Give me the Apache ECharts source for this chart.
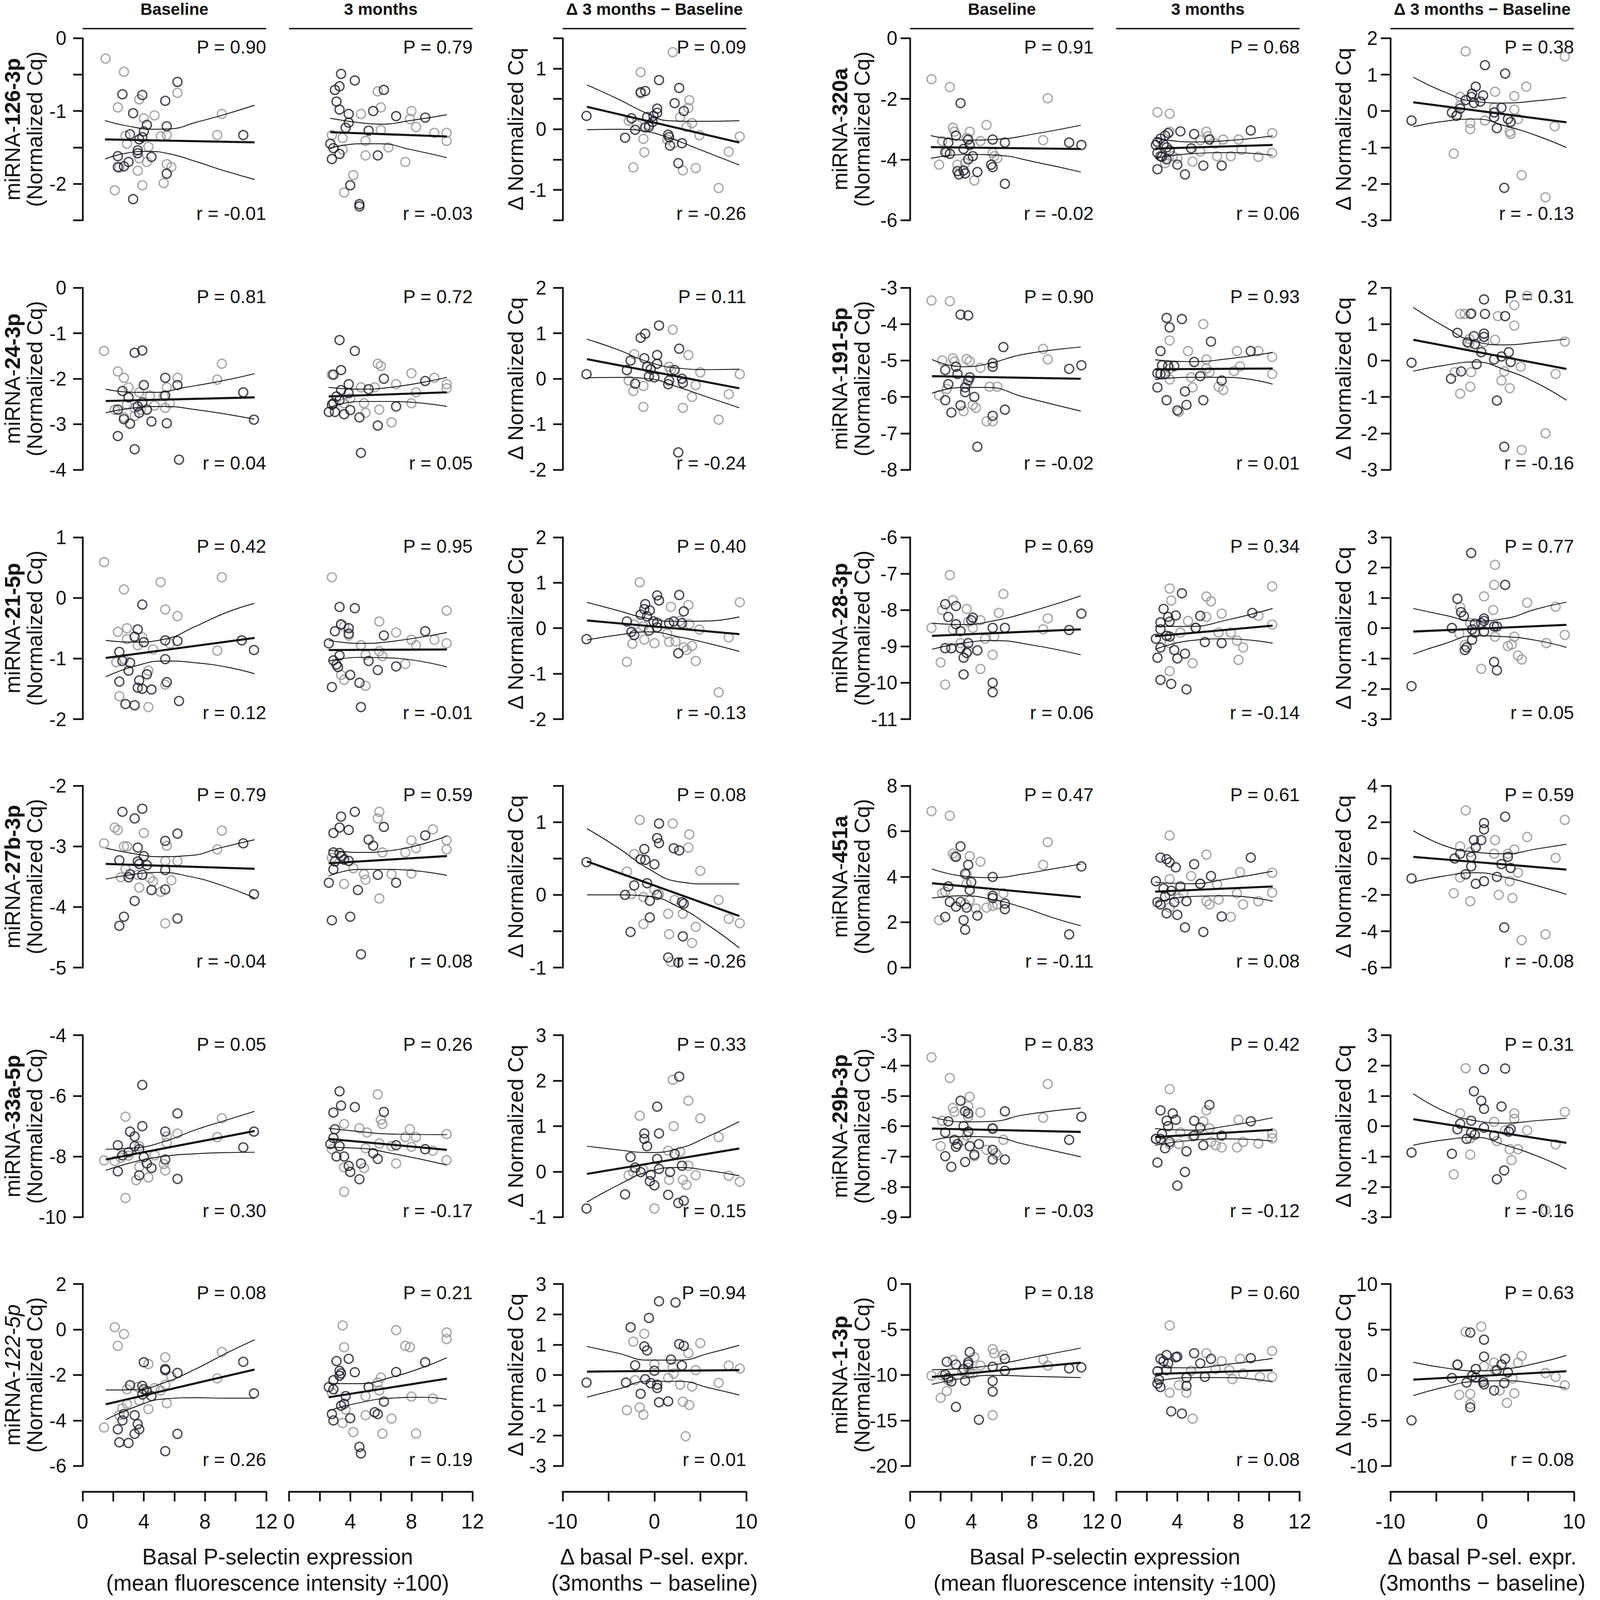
<!DOCTYPE html>
<html>
<head>
<meta charset="utf-8">
<title>miRNA vs basal P-selectin expression</title>
<script src="https://cdn.jsdelivr.net/npm/echarts@6/dist/echarts.min.js"></script>
<style>
html, body { margin: 0; padding: 0; background: #fff; overflow: hidden; }
#main { width: 100vw; height: 100vh; }
</style>
</head>
<body>
<div id="main"></div>
<script>
//表头与名称
var colHeaders = ['Baseline', '3 months', '\u0394 3 months \u2212 Baseline'];
var mirLeft = ['126-3p', '24-3p', '21-5p', '27b-3p', '33a-5p', '122-5p'];
var mirRight = ['320a', '191-5p', '28-3p', '451a', '29b-3p', '1-3p'];

//P值 / r值 (每行6个面板)
var pLabels = [
	['P = 0.90', 'P = 0.79', 'P = 0.09', 'P = 0.91', 'P = 0.68', 'P = 0.38'],
	['P = 0.81', 'P = 0.72', 'P = 0.11', 'P = 0.90', 'P = 0.93', 'P = 0.31'],
	['P = 0.42', 'P = 0.95', 'P = 0.40', 'P = 0.69', 'P = 0.34', 'P = 0.77'],
	['P = 0.79', 'P = 0.59', 'P = 0.08', 'P = 0.47', 'P = 0.61', 'P = 0.59'],
	['P = 0.05', 'P = 0.26', 'P = 0.33', 'P = 0.83', 'P = 0.42', 'P = 0.31'],
	['P = 0.08', 'P = 0.21', 'P =0.94', 'P = 0.18', 'P = 0.60', 'P = 0.63']
];
var rLabels = [
	['r = -0.01', 'r = -0.03', 'r = -0.26', 'r = -0.02', 'r = 0.06', 'r = - 0.13'],
	['r = 0.04', 'r = 0.05', 'r = -0.24', 'r = -0.02', 'r = 0.01', 'r = -0.16'],
	['r = 0.12', 'r = -0.01', 'r = -0.13', 'r = 0.06', 'r = -0.14', 'r = 0.05'],
	['r = -0.04', 'r = 0.08', 'r = -0.26', 'r = -0.11', 'r = 0.08', 'r = -0.08'],
	['r = 0.30', 'r = -0.17', 'r = 0.15', 'r = -0.03', 'r = -0.12', 'r = -0.16'],
	['r = 0.26', 'r = 0.19', 'r = 0.01', 'r = 0.20', 'r = 0.08', 'r = 0.08']
];

//y轴刻度 [min, max, 刻度间隔, 标签间隔]
var yBasalLeft = [[-2.5, 0, 0.5, 1], [-4, 0, 1, 1], [-2, 1, 1, 1], [-5, -2, 1, 1], [-10, -4, 2, 2], [-6, 2, 2, 2]];
var yDeltaLeft = [[-1.5, 1.5, 0.5, 1], [-2, 2, 1, 1], [-2, 2, 1, 1], [-1, 1.5, 0.5, 1], [-1, 3, 1, 1], [-3, 3, 1, 1]];
var yBasalRight = [[-6, 0, 2, 2], [-8, -3, 1, 1], [-11, -6, 1, 1], [0, 8, 2, 2], [-9, -3, 1, 1], [-20, 0, 5, 5]];
var yDeltaRight = [[-3, 2, 1, 1], [-3, 2, 1, 1], [-3, 3, 1, 1], [-6, 4, 2, 2], [-3, 3, 1, 1], [-10, 10, 5, 5]];
//x轴刻度
var xBasalTicks = [0, 12, 2, 4];
var xDeltaTicks = [-10, 10, 5, 10];

// ---------- row 1 ----------
var r1c1_gray = [[1.5,-0.28],[2.7,-0.46],[2.3,-0.95],[3.7,-0.84],[6.2,-0.75],[4.0,-1.10],[4.7,-1.06],[2.8,-1.34],[2.9,-1.45],[5.1,-1.35],[5.5,-1.33],[4.3,-1.49],[3.7,-1.65],[4.2,-1.70],[2.4,-1.78],[5.5,-1.73],[5.8,-1.77],[3.6,-1.82],[3.9,-2.02],[5.3,-1.99],[2.1,-2.09],[9.1,-1.04],[8.8,-1.33]];
var r1c1_black = [[6.2,-0.60],[2.6,-0.77],[3.9,-0.78],[5.4,-0.86],[3.3,-1.03],[4.2,-1.19],[5.5,-1.21],[3.1,-1.32],[4.0,-1.28],[3.9,-1.36],[3.7,-1.39],[3.6,-1.54],[3.6,-1.58],[4.5,-1.63],[2.3,-1.62],[3.0,-1.70],[2.3,-1.77],[2.7,-1.76],[5.5,-1.86],[3.3,-2.21],[10.5,-1.33]];
var r1c1_fit = [[1.46,-1.39],[11.24,-1.43]];
var r1c1_hi = [[1.46,-1.13],[2.8,-1.20],[4.7,-1.25],[5.7,-1.245],[7.5,-1.15],[9.25,-1.05],[11.24,-0.92]];
var r1c1_lo = [[1.46,-1.66],[2.8,-1.58],[4.3,-1.555],[5.7,-1.59],[7.5,-1.70],[9.25,-1.82],[11.24,-1.94]];

var r1c2_gray = [[5.8,-0.73],[6.0,-0.95],[4.7,-1.04],[8.0,-1.0],[7.9,-1.11],[6.0,-1.26],[8.3,-1.22],[2.8,-1.33],[3.5,-1.37],[9.5,-1.30],[10.3,-1.30],[10.3,-1.41],[5.0,-1.41],[6.5,-1.50],[3.5,-1.53],[5.0,-1.61],[7.6,-1.70],[4.2,-1.88],[3.6,-2.12]];
var r1c2_black = [[3.4,-0.49],[4.3,-0.58],[3.3,-0.66],[3.0,-0.71],[3.1,-0.87],[3.3,-0.98],[3.9,-1.04],[5.5,-1.0],[6.2,-0.71],[7.0,-1.07],[8.9,-1.09],[3.9,-1.16],[3.7,-1.23],[5.2,-1.27],[2.7,-1.45],[2.9,-1.51],[3.3,-1.59],[2.8,-1.66],[5.8,-1.61],[4.0,-2.02],[4.6,-2.28],[4.6,-2.31]];
var r1c2_fit = [[2.69,-1.29],[10.32,-1.35]];
var r1c2_hi = [[2.69,-1.10],[4.6,-1.16],[5.95,-1.18],[7.97,-1.13],[10.32,-1.05]];
var r1c2_lo = [[2.69,-1.51],[4.6,-1.45],[5.95,-1.45],[7.97,-1.53],[10.32,-1.64]];

var r1c3_gray = [[2.0,1.27],[-1.5,0.94],[-1.5,0.59],[3.8,0.48],[3.7,0.35],[2.8,0.20],[4.1,0.10],[-2.8,0.14],[-1.9,0.07],[-0.6,0.07],[3.5,0.04],[4.9,-0.10],[1.4,-0.17],[2.1,-0.23],[-1.2,-0.16],[-1.1,-0.38],[8.1,-0.37],[9.3,-0.12],[-2.3,-0.63],[3.1,-0.68],[4.5,-0.64],[7.0,-0.97]];
var r1c3_black = [[0.5,0.81],[-1.5,0.61],[-1.0,0.63],[2.7,0.68],[2.2,0.43],[0.3,0.34],[3.2,0.30],[0.3,0.27],[-0.1,0.22],[-0.8,0.20],[-2.5,0.18],[-0.2,0.12],[-0.6,0.04],[-1.0,0.03],[-2.1,-0.01],[-7.4,0.22],[1.5,-0.09],[1.6,-0.13],[-3.2,-0.14],[1.7,-0.27],[3.0,-0.23],[2.6,-0.56]];
var r1c3_fit = [[-7.35,0.37],[9.25,-0.22]];
var r1c3_hi = [[-7.35,0.73],[-4.0,0.50],[-0.67,0.25],[1.56,0.14],[4.35,0.13],[9.25,0.14]];
var r1c3_lo = [[-7.35,-0.01],[-4.0,0.0],[-1.2,-0.03],[1.56,-0.14],[4.35,-0.30],[9.25,-0.59]];

var r1c4_gray = [[1.4,-1.35],[2.6,-1.61],[9.0,-1.98],[5.0,-2.86],[2.8,-2.95],[2.9,-3.08],[3.9,-3.08],[2.1,-3.39],[3.7,-3.29],[4.6,-3.39],[8.7,-3.36],[2.4,-3.76],[5.4,-3.78],[5.5,-3.89],[5.7,-3.96],[1.9,-4.17],[3.1,-4.17],[4.2,-4.69],[3.6,-4.12]];
var r1c4_black = [[3.3,-2.14],[3.0,-3.21],[3.8,-3.34],[5.4,-3.34],[6.2,-3.44],[2.5,-3.44],[3.9,-3.52],[3.5,-3.65],[2.3,-3.76],[2.6,-3.81],[4.1,-3.89],[3.8,-3.99],[5.3,-4.17],[5.4,-4.25],[3.1,-4.38],[3.5,-4.36],[3.6,-4.46],[3.2,-4.49],[4.4,-4.41],[6.2,-4.80],[10.4,-3.44],[11.2,-3.52]];
var r1c4_fit = [[1.36,-3.59],[11.16,-3.65]];
var r1c4_hi = [[1.36,-3.21],[3.75,-3.36],[5.75,-3.33],[8.07,-3.16],[11.16,-2.87]];
var r1c4_lo = [[1.36,-3.96],[3.75,-3.83],[5.75,-3.86],[8.07,-4.07],[11.16,-4.41]];

var r1c5_gray = [[2.7,-2.44],[3.5,-2.49],[3.5,-3.08],[5.9,-3.08],[6.0,-3.23],[7.0,-3.34],[8.0,-3.34],[5.5,-3.36],[10.2,-3.13],[6.5,-3.47],[8.2,-3.68],[5.5,-3.73],[10.2,-3.78],[3.7,-3.89],[6.6,-3.89],[7.5,-3.89],[9.3,-3.91],[5.0,-4.07],[4.0,-3.96],[3.2,-4.12]];
var r1c5_black = [[4.2,-3.07],[5.1,-3.16],[8.8,-3.04],[3.4,-3.13],[3.2,-3.21],[2.9,-3.31],[2.7,-3.42],[3.1,-3.49],[2.6,-3.52],[3.3,-3.60],[3.5,-3.70],[2.7,-3.78],[2.9,-3.89],[3.3,-3.99],[3.0,-3.91],[6.1,-3.34],[4.9,-3.63],[4.0,-4.17],[5.7,-4.20],[6.9,-4.20],[2.7,-4.32],[4.5,-4.49]];
var r1c5_fit = [[2.55,-3.64],[10.23,-3.52]];
var r1c5_hi = [[2.55,-3.29],[4.87,-3.42],[6.85,-3.39],[10.23,-3.22]];
var r1c5_lo = [[2.55,-3.96],[4.87,-3.81],[7.5,-3.77],[10.23,-3.86]];

var r1c6_gray = [[-1.8,1.64],[9.0,1.50],[4.8,0.67],[1.4,0.53],[3.5,0.41],[-2.4,0.39],[-2.4,0.15],[1.3,0.09],[3.5,0.04],[-2.7,-0.09],[3.9,-0.22],[0.3,-0.26],[-1.3,-0.33],[-1.3,-0.50],[3.0,-0.57],[3.1,-0.63],[7.9,-0.42],[-3.1,-1.17],[4.3,-1.76],[6.9,-2.37]];
var r1c6_black = [[0.3,1.26],[2.5,1.03],[-0.7,0.67],[-1.1,0.48],[0.1,0.43],[-1.2,0.39],[-1.8,0.30],[-0.2,0.26],[-0.9,0.22],[-2.4,0.07],[-3.3,-0.04],[-2.8,-0.13],[2.1,0.09],[1.3,-0.04],[1.3,-0.17],[2.8,-0.22],[3.1,-0.30],[1.6,-0.47],[-7.7,-0.26],[2.4,-2.11]];
var r1c6_fit = [[-7.51,0.24],[9.17,-0.31]];
var r1c6_hi = [[-7.51,0.93],[-4.09,0.52],[-0.77,0.26],[2.54,0.22],[5.86,0.28],[9.17,0.37]];
var r1c6_lo = [[-7.51,-0.43],[-4.09,-0.28],[-0.77,-0.22],[2.54,-0.41],[5.86,-0.67],[9.17,-1.0]];

// ---------- row 2 ----------
var r2c1_gray = [[1.4,-1.39],[2.3,-1.84],[2.7,-1.98],[9.1,-1.67],[8.8,-2.02],[6.2,-1.98],[5.5,-2.19],[3.0,-2.19],[3.7,-2.30],[2.9,-2.57],[4.4,-2.37],[4.7,-2.59],[5.3,-2.38],[5.7,-2.54],[5.4,-2.64],[2.1,-2.68],[3.4,-2.64],[3.8,-2.68],[3.4,-2.82],[2.7,-2.85]];
var r2c1_black = [[3.4,-1.43],[3.9,-1.38],[5.4,-1.98],[6.2,-2.14],[4.0,-2.14],[2.6,-2.27],[5.4,-2.37],[3.0,-2.41],[3.9,-2.52],[3.6,-2.61],[3.7,-2.75],[4.2,-2.68],[2.3,-2.68],[2.7,-2.89],[3.1,-2.99],[4.5,-2.94],[5.5,-2.98],[10.5,-2.30],[11.2,-2.90],[2.3,-3.26],[3.4,-3.55],[6.3,-3.78]];
var r2c1_fit = [[1.51,-2.49],[11.24,-2.41]];
var r2c1_hi = [[1.51,-2.23],[3.36,-2.30],[4.70,-2.30],[6.71,-2.19],[9.06,-2.05],[11.24,-1.89]];
var r2c1_lo = [[1.51,-2.75],[3.36,-2.64],[5.37,-2.61],[7.38,-2.68],[9.40,-2.78],[11.24,-2.89]];

var r2c2_gray = [[5.8,-1.67],[6.0,-1.72],[2.8,-1.91],[8.0,-1.88],[9.5,-1.98],[10.3,-2.12],[10.3,-2.21],[7.0,-2.12],[4.7,-2.19],[5.6,-2.19],[8.3,-2.30],[4.0,-2.43],[3.6,-2.54],[4.9,-2.54],[8.0,-2.54],[5.9,-2.68],[5.0,-2.75],[6.7,-2.96]];
var r2c2_black = [[3.3,-1.15],[4.3,-1.39],[3.4,-1.81],[2.9,-1.91],[3.9,-2.12],[6.2,-2.0],[5.2,-2.23],[3.4,-2.25],[3.9,-2.32],[3.1,-2.39],[3.3,-2.47],[2.9,-2.54],[2.8,-2.57],[8.9,-2.05],[2.6,-2.73],[3.0,-2.73],[4.0,-2.69],[3.6,-2.78],[4.6,-2.85],[7.0,-2.61],[5.8,-3.03],[4.7,-3.63]];
var r2c2_fit = [[2.59,-2.39],[10.32,-2.30]];
var r2c2_hi = [[2.59,-2.19],[4.61,-2.23],[6.63,-2.19],[10.32,-1.97]];
var r2c2_lo = [[2.59,-2.64],[4.61,-2.50],[6.63,-2.50],[10.32,-2.61]];

var r2c3_gray = [[2.0,1.08],[3.7,0.52],[-2.2,0.54],[1.8,0.19],[5.0,0.14],[9.3,0.10],[-2.8,-0.04],[-1.2,-0.16],[4.5,-0.14],[-2.3,-0.27],[4.1,-0.40],[8.1,-0.34],[-1.2,-0.62],[3.1,-0.64],[7.0,-0.90],[1.6,0.26]];
var r2c3_black = [[0.5,1.17],[-1.5,0.90],[-1.0,0.99],[2.7,0.66],[0.3,0.52],[-1.1,0.45],[-2.6,0.40],[0.3,0.33],[-0.8,0.26],[-0.4,0.21],[-3.0,0.19],[2.2,0.19],[-7.4,0.10],[-0.6,0.05],[0.0,0.03],[1.6,-0.04],[3.0,0.0],[1.5,-0.12],[3.1,-0.09],[-2.1,-0.11],[2.6,-1.62]];
var r2c3_fit = [[-7.35,0.43],[9.25,-0.21]];
var r2c3_hi = [[-7.35,0.87],[-4.0,0.64],[-0.67,0.37],[2.67,0.23],[6.02,0.20],[9.25,0.21]];
var r2c3_lo = [[-7.35,0.02],[-4.0,0.03],[-0.67,0.0],[2.67,-0.19],[6.02,-0.42],[9.25,-0.64]];

var r2c4_gray = [[1.4,-3.35],[2.6,-3.37],[8.7,-4.68],[9.0,-4.97],[2.1,-5.0],[2.8,-4.94],[2.9,-5.03],[3.7,-4.96],[3.9,-5.02],[4.6,-5.20],[2.4,-5.78],[1.9,-5.96],[3.5,-6.39],[4.1,-6.22],[4.3,-6.30],[5.2,-5.72],[5.7,-5.72],[5.0,-6.67],[5.4,-6.67],[3.7,-5.65]];
var r2c4_black = [[3.3,-3.74],[3.8,-3.76],[6.1,-4.63],[11.2,-5.13],[10.4,-5.23],[5.4,-5.07],[5.4,-5.17],[2.3,-5.26],[3.0,-5.17],[3.1,-5.37],[3.9,-5.46],[3.8,-5.55],[2.5,-5.65],[3.6,-5.74],[3.6,-5.87],[2.3,-6.09],[4.2,-6.0],[3.3,-6.23],[2.7,-6.43],[5.4,-6.52],[6.2,-6.35],[4.4,-7.37]];
var r2c4_fit = [[1.43,-5.43],[11.16,-5.50]];
var r2c4_hi = [[1.43,-4.97],[3.42,-5.17],[5.08,-5.09],[7.41,-4.83],[11.16,-4.63]];
var r2c4_lo = [[1.43,-5.90],[3.42,-5.74],[5.08,-5.74],[7.41,-6.0],[11.16,-6.39]];

var r2c5_gray = [[5.7,-4.0],[3.5,-4.45],[4.7,-4.74],[7.9,-4.74],[9.3,-4.74],[10.2,-4.90],[5.9,-4.97],[8.1,-5.16],[3.5,-5.22],[5.9,-5.22],[7.7,-5.29],[6.1,-5.32],[10.2,-5.37],[4.9,-5.46],[3.5,-5.52],[6.7,-5.72],[7.0,-5.81],[5.0,-5.74],[4.1,-6.41]];
var r2c5_black = [[3.3,-3.83],[4.3,-3.86],[3.5,-4.09],[6.2,-4.48],[2.9,-4.74],[8.8,-4.74],[5.1,-5.04],[3.4,-5.15],[3.8,-5.15],[3.0,-5.13],[2.7,-5.35],[2.9,-5.37],[3.2,-5.37],[5.5,-5.43],[6.9,-5.55],[2.7,-5.74],[4.5,-5.85],[3.3,-6.09],[5.7,-6.09],[4.6,-6.22],[4.0,-6.37]];
var r2c5_fit = [[2.55,-5.24],[10.23,-5.22]];
var r2c5_hi = [[2.55,-4.98],[4.87,-5.03],[7.19,-4.96],[10.23,-4.78]];
var r2c5_lo = [[2.55,-5.52],[4.87,-5.46],[7.19,-5.46],[10.23,-5.65]];

var r2c6_gray = [[4.9,1.78],[3.5,1.52],[-2.4,1.28],[-1.9,1.28],[-1.3,1.28],[1.7,1.22],[3.5,0.96],[-1.4,0.59],[1.4,0.57],[0.2,0.50],[-1.4,0.46],[9.0,0.52],[-3.0,-0.32],[-1.2,-0.32],[2.4,-0.30],[4.2,-0.17],[-2.4,-0.91],[-1.3,-0.72],[2.1,-0.55],[3.0,-0.76],[8.0,-0.37],[6.9,-2.0],[4.3,-2.46]];
var r2c6_black = [[0.2,1.68],[-1.2,1.29],[0.3,1.28],[2.5,1.22],[-2.7,0.76],[-0.9,0.67],[0.2,0.74],[0.2,0.65],[-1.6,0.50],[-0.8,0.45],[-0.1,0.23],[2.9,0.23],[2.1,0.11],[1.3,0.03],[3.1,-0.04],[-7.7,-0.06],[-0.6,-0.10],[-2.3,-0.30],[-3.4,-0.50],[1.6,-1.10],[2.4,-2.37]];
var r2c6_fit = [[-7.51,0.57],[9.17,-0.23]];
var r2c6_hi = [[-7.51,1.46],[-4.09,0.93],[-0.77,0.52],[2.54,0.43],[5.86,0.50],[9.17,0.59]];
var r2c6_lo = [[-7.51,-0.29],[-4.09,-0.13],[-0.77,-0.04],[2.54,-0.26],[5.86,-0.61],[9.17,-1.09]];

// ---------- row 3 ----------
var r3c1_gray = [[1.4,0.59],[2.7,0.14],[5.1,0.26],[9.1,0.34],[5.4,-0.19],[6.2,-0.30],[2.3,-0.56],[2.9,-0.50],[2.9,-0.68],[3.9,-0.65],[4.6,-0.85],[3.6,-0.78],[5.7,-0.75],[8.8,-0.87],[2.7,-1.01],[2.2,-1.06],[4.3,-1.20],[5.4,-1.43],[2.4,-1.62],[4.3,-1.80]];
var r3c1_black = [[3.9,-0.11],[3.6,-0.52],[3.4,-0.64],[4.0,-0.73],[5.4,-0.70],[6.2,-0.71],[2.4,-0.89],[10.4,-0.70],[11.2,-0.86],[2.6,-1.04],[3.1,-1.07],[5.4,-1.01],[3.0,-1.20],[4.2,-1.26],[3.7,-1.36],[2.4,-1.38],[5.5,-1.39],[3.6,-1.48],[3.9,-1.50],[4.5,-1.51],[2.8,-1.75],[3.4,-1.77],[6.3,-1.70]];
var r3c1_fit = [[1.51,-0.99],[11.24,-0.66]];
var r3c1_hi = [[1.51,-0.70],[3.36,-0.73],[5.37,-0.68],[7.38,-0.47],[9.40,-0.24],[11.24,-0.09]];
var r3c1_lo = [[1.51,-1.30],[3.36,-1.13],[5.37,-1.04],[7.38,-1.07],[9.40,-1.14],[11.24,-1.25]];

var r3c2_gray = [[2.8,0.34],[5.9,-0.39],[10.3,-0.21],[3.4,-0.43],[3.6,-0.47],[7.0,-0.57],[10.3,-0.75],[9.5,-0.69],[8.0,-0.69],[8.3,-0.78],[3.9,-0.62],[4.7,-0.78],[5.9,-0.88],[5.0,-0.94],[6.1,-0.96],[7.6,-1.09],[3.4,-1.27],[3.6,-1.35],[5.0,-1.45]];
var r3c2_black = [[3.3,-0.15],[4.3,-0.17],[3.4,-0.44],[3.9,-0.50],[3.0,-0.55],[3.9,-0.59],[6.2,-0.62],[8.9,-0.55],[2.6,-0.75],[3.3,-0.95],[2.9,-1.03],[5.2,-1.04],[3.1,-1.10],[7.0,-1.13],[3.2,-1.14],[5.8,-1.19],[4.0,-1.27],[4.6,-1.40],[2.8,-1.47],[4.7,-1.80]];
var r3c2_fit = [[2.59,-0.86],[10.32,-0.85]];
var r3c2_hi = [[2.59,-0.70],[4.61,-0.75],[6.63,-0.72],[10.32,-0.57]];
var r3c2_lo = [[2.59,-1.04],[4.61,-0.98],[6.63,-0.99],[10.32,-1.14]];

var r3c3_gray = [[-1.6,1.01],[9.3,0.57],[3.7,0.51],[1.8,0.47],[2.8,0.16],[-2.2,0.08],[-1.2,0.04],[4.9,-0.03],[3.8,0.09],[1.4,-0.12],[-2.4,-0.34],[-1.1,-0.25],[0.0,-0.33],[1.6,-0.30],[2.3,-0.29],[3.2,-0.42],[4.1,-0.39],[3.5,-0.48],[8.1,-0.20],[-3.0,-0.74],[4.5,-0.72],[7.0,-1.41]];
var r3c3_black = [[0.3,0.72],[0.5,0.61],[2.7,0.73],[-1.0,0.53],[-1.1,0.42],[3.2,0.37],[-0.5,0.39],[-1.5,0.30],[-0.8,0.26],[-3.0,0.15],[-0.1,0.15],[0.3,0.12],[1.6,0.11],[2.1,0.15],[3.0,0.11],[0.3,0.02],[-0.6,-0.05],[-2.5,-0.08],[-2.2,-0.15],[-7.4,-0.24],[2.6,-0.55]];
var r3c3_fit = [[-7.35,0.17],[9.25,-0.13]];
var r3c3_hi = [[-7.35,0.57],[-4.0,0.39],[-0.67,0.21],[2.67,0.15],[6.02,0.16],[9.25,0.25]];
var r3c3_lo = [[-7.35,-0.26],[-4.0,-0.15],[-0.67,-0.08],[2.67,-0.19],[6.02,-0.34],[9.25,-0.51]];

var r3c4_gray = [[2.6,-7.04],[2.8,-7.73],[6.1,-7.56],[2.1,-8.0],[3.7,-7.97],[5.8,-8.08],[4.6,-8.28],[3.8,-8.32],[9.0,-8.23],[1.4,-8.49],[2.8,-8.53],[4.1,-8.49],[8.7,-8.53],[4.9,-8.79],[5.5,-8.73],[3.3,-8.91],[3.8,-9.12],[5.4,-9.23],[4.6,-9.62],[2.0,-9.44],[2.3,-10.05]];
var r3c4_black = [[2.3,-7.84],[3.0,-7.89],[2.5,-8.19],[4.1,-8.21],[4.0,-8.28],[3.0,-8.39],[11.2,-8.10],[6.2,-8.49],[5.4,-8.49],[3.3,-8.58],[10.4,-8.55],[3.8,-8.91],[2.3,-9.05],[2.7,-9.05],[3.3,-9.05],[4.4,-9.11],[3.7,-9.18],[3.5,-9.31],[3.5,-9.77],[5.4,-10.0],[5.4,-10.26]];
var r3c4_fit = [[1.43,-8.71],[11.16,-8.53]];
var r3c4_hi = [[1.43,-8.36],[3.42,-8.40],[5.42,-8.30],[8.07,-8.02],[11.16,-7.61]];
var r3c4_lo = [[1.43,-9.08],[3.42,-8.91],[5.42,-8.84],[8.07,-8.97],[11.16,-9.23]];

var r3c5_gray = [[3.5,-7.41],[10.2,-7.35],[3.6,-7.74],[5.9,-7.63],[6.2,-7.76],[4.7,-8.30],[5.9,-8.19],[6.9,-8.10],[9.3,-8.16],[10.2,-8.40],[5.2,-8.49],[4.2,-8.62],[6.7,-8.62],[7.5,-8.62],[3.5,-8.91],[7.9,-8.84],[8.3,-9.03],[5.0,-9.46],[8.0,-9.37],[3.5,-9.68]];
var r3c5_black = [[4.3,-7.54],[3.1,-7.97],[3.4,-8.19],[3.5,-8.32],[3.9,-8.15],[5.5,-8.16],[8.9,-8.08],[2.9,-8.34],[5.2,-8.49],[2.9,-8.53],[3.3,-8.71],[2.6,-8.79],[3.5,-8.73],[5.8,-8.88],[6.9,-8.91],[2.9,-9.03],[3.8,-9.10],[4.5,-9.20],[2.7,-9.31],[4.0,-9.33],[2.9,-9.92],[3.6,-10.03],[4.6,-10.18]];
var r3c5_fit = [[2.55,-8.72],[10.23,-8.43]];
var r3c5_hi = [[2.55,-8.45],[4.87,-8.45],[7.19,-8.28],[10.23,-7.96]];
var r3c5_lo = [[2.55,-9.08],[4.87,-8.84],[7.19,-8.79],[10.23,-8.91]];

var r3c6_gray = [[1.4,2.09],[1.3,1.43],[0.2,1.05],[1.2,0.60],[4.9,0.84],[-2.4,0.69],[8.0,0.71],[-1.3,0.17],[-2.5,-0.18],[1.4,-0.28],[3.5,-0.28],[9.0,-0.22],[-1.9,-0.56],[2.8,-0.59],[3.2,-0.54],[7.0,-0.49],[3.9,-0.90],[4.3,-1.03],[-0.1,-1.34]];
var r3c6_black = [[-1.2,2.48],[2.5,1.43],[-2.7,0.97],[-2.3,0.53],[-2.0,0.40],[0.2,0.32],[0.2,0.24],[-0.1,0.17],[-0.8,0.15],[-3.3,0.01],[-1.1,-0.04],[1.3,0.06],[1.6,0.06],[0.2,-0.11],[-0.8,-0.15],[-1.1,-0.38],[-1.7,-0.63],[-1.9,-0.72],[1.3,-1.11],[1.6,-1.39],[-7.7,-1.91]];
var r3c6_fit = [[-7.51,-0.11],[9.17,0.11]];
var r3c6_hi = [[-7.51,0.65],[-4.09,0.43],[-0.77,0.24],[2.54,0.32],[5.86,0.63],[9.17,0.86]];
var r3c6_lo = [[-7.51,-0.85],[-4.09,-0.51],[-0.77,-0.25],[2.54,-0.28],[5.86,-0.40],[9.17,-0.63]];

// ---------- row 4 ----------
var r4c1_gray = [[2.1,-2.69],[2.3,-2.73],[4.0,-2.78],[1.4,-2.95],[2.7,-3.0],[2.9,-3.0],[5.5,-2.99],[9.1,-2.74],[8.8,-3.05],[6.2,-3.24],[5.4,-3.24],[2.8,-3.37],[2.5,-3.51],[3.6,-3.47],[4.6,-3.58],[5.8,-3.56],[4.4,-3.52],[3.7,-3.68],[5.1,-3.75],[5.4,-4.27]];
var r4c1_black = [[2.6,-2.43],[3.9,-2.38],[3.4,-2.54],[6.2,-2.79],[5.4,-2.91],[3.6,-3.02],[4.0,-3.16],[2.4,-3.23],[3.6,-3.25],[3.7,-3.29],[4.2,-3.31],[5.4,-3.39],[3.1,-3.46],[3.9,-3.47],[3.0,-3.51],[10.5,-2.95],[11.2,-3.79],[4.5,-3.72],[5.4,-3.71],[3.4,-3.90],[2.7,-4.16],[2.4,-4.31],[6.2,-4.19]];
var r4c1_fit = [[1.51,-3.29],[11.24,-3.37]];
var r4c1_hi = [[1.51,-3.03],[3.36,-3.12],[5.04,-3.17],[7.05,-3.15],[9.06,-3.02],[11.24,-2.89]];
var r4c1_lo = [[1.51,-3.54],[3.36,-3.46],[5.04,-3.43],[7.05,-3.50],[9.06,-3.64],[11.24,-3.85]];

var r4c2_gray = [[5.9,-2.43],[5.8,-2.54],[9.4,-2.72],[10.3,-2.90],[8.0,-2.90],[10.3,-3.05],[8.3,-3.03],[7.6,-3.10],[6.1,-3.10],[2.8,-3.19],[3.5,-3.17],[4.2,-3.36],[4.9,-3.46],[5.0,-3.55],[6.7,-3.46],[8.0,-3.45],[3.6,-3.62],[5.9,-3.86]];
var r4c2_black = [[4.3,-2.43],[3.4,-2.51],[3.3,-2.69],[3.9,-2.73],[2.9,-2.78],[6.2,-2.68],[5.2,-2.89],[5.5,-2.99],[8.9,-2.82],[2.9,-3.10],[3.3,-3.11],[3.4,-3.16],[3.6,-3.22],[3.9,-3.24],[3.0,-3.25],[2.9,-3.38],[5.8,-3.47],[7.0,-3.60],[2.6,-3.60],[4.5,-3.72],[2.8,-4.22],[4.0,-4.16],[4.7,-4.78]];
var r4c2_fit = [[2.59,-3.28],[10.32,-3.16]];
var r4c2_hi = [[2.59,-3.06],[4.61,-3.10],[6.63,-3.07],[10.32,-2.83]];
var r4c2_lo = [[2.59,-3.49],[4.61,-3.38],[6.63,-3.38],[10.32,-3.48]];

var r4c3_gray = [[-1.6,1.03],[2.0,0.98],[3.8,0.83],[-2.2,0.56],[3.7,0.65],[5.0,0.33],[-3.0,0.32],[-2.5,0.01],[-1.2,-0.03],[0.0,0.07],[0.5,0.01],[2.2,-0.07],[1.5,-0.26],[3.1,-0.26],[7.0,-0.07],[8.1,-0.33],[9.3,-0.39],[-1.2,-0.40],[4.5,-0.44],[1.6,-0.54],[4.1,-0.66],[1.8,-0.92]];
var r4c3_black = [[0.5,0.98],[0.3,0.78],[0.5,0.71],[-1.1,0.63],[2.1,0.64],[2.7,0.61],[-1.5,0.49],[-1.0,0.48],[0.0,0.42],[-7.4,0.45],[-0.8,0.16],[-2.2,0.13],[-3.2,0.0],[0.3,0.0],[-0.5,-0.08],[3.0,-0.10],[3.2,-0.12],[-0.5,-0.31],[-2.6,-0.51],[3.1,-0.57],[1.5,-0.86],[2.6,-0.93]];
var r4c3_fit = [[-7.35,0.46],[9.25,-0.29]];
var r4c3_hi = [[-7.35,0.91],[-4.0,0.65],[-0.67,0.36],[2.67,0.18],[6.02,0.15],[9.25,0.15]];
var r4c3_lo = [[-7.35,0.0],[-4.0,0.0],[-0.67,-0.02],[2.67,-0.17],[6.02,-0.43],[9.25,-0.73]];

var r4c4_gray = [[1.4,6.88],[2.6,6.68],[9.0,5.52],[8.7,4.52],[2.8,5.01],[2.9,4.90],[3.9,4.90],[4.6,4.66],[3.7,4.10],[3.7,3.69],[2.1,3.27],[2.3,3.34],[6.1,3.27],[4.3,2.60],[5.0,2.64],[5.4,2.71],[5.7,2.78],[3.6,2.78],[1.9,2.09],[3.9,2.96]];
var r4c4_black = [[3.3,5.33],[3.0,4.87],[3.8,4.52],[3.6,4.13],[5.4,3.99],[4.0,3.76],[2.5,3.57],[3.9,3.41],[11.2,4.45],[5.4,3.16],[5.4,3.06],[2.6,2.89],[3.3,2.89],[6.2,2.82],[3.0,2.68],[3.7,2.64],[6.2,2.57],[2.3,2.23],[4.4,2.29],[3.5,2.09],[3.6,1.67],[10.4,1.46]];
var r4c4_fit = [[1.43,3.71],[11.16,3.10]];
var r4c4_hi = [[1.43,4.34],[3.42,4.03],[5.42,3.96],[7.41,4.12],[9.40,4.35],[11.16,4.55]];
var r4c4_lo = [[1.43,3.06],[3.42,3.16],[5.42,2.99],[7.41,2.64],[9.40,2.18],[11.16,1.84]];

var r4c5_gray = [[3.5,5.81],[5.9,4.97],[10.2,4.17],[8.1,4.20],[4.9,4.03],[3.5,3.89],[5.5,3.69],[6.6,3.66],[3.5,3.20],[4.4,3.27],[4.1,3.06],[7.9,3.27],[5.9,2.92],[6.7,2.99],[6.1,2.78],[8.3,2.78],[9.3,2.92],[10.2,3.30],[3.5,2.64],[7.5,2.23]];
var r4c5_black = [[2.9,4.84],[3.3,4.77],[3.5,4.63],[3.9,4.41],[5.1,4.55],[8.8,4.84],[6.2,4.03],[2.6,3.80],[5.5,3.69],[3.1,3.48],[4.2,3.57],[3.6,3.38],[3.2,3.13],[2.7,2.88],[2.9,2.78],[3.8,2.88],[4.6,2.92],[3.3,2.39],[4.0,2.32],[6.9,2.25],[4.5,1.77],[5.7,1.57]];
var r4c5_fit = [[2.55,3.34],[10.23,3.57]];
var r4c5_hi = [[2.55,3.76],[4.87,3.69],[7.19,3.89],[10.23,4.24]];
var r4c5_lo = [[2.55,2.85],[4.87,3.13],[7.19,3.16],[10.23,2.92]];

var r4c6_gray = [[-1.8,2.64],[9.0,2.12],[4.9,1.18],[1.4,1.01],[3.5,0.49],[-2.4,0.66],[1.3,0.26],[2.8,0.26],[8.0,0.03],[-2.4,-1.04],[3.9,-0.78],[3.0,-1.25],[-3.1,-1.91],[-1.3,-2.35],[1.8,-2.0],[3.3,-2.17],[4.3,-4.49],[6.9,-4.17],[-1.3,0.35]];
var r4c6_black = [[2.5,2.30],[0.2,1.95],[0.2,1.60],[-0.9,1.01],[-0.1,1.01],[-0.7,0.61],[-2.4,0.26],[-3.0,0.0],[-1.2,0.09],[2.8,0.09],[2.1,-0.31],[-1.2,-0.43],[3.1,-0.52],[-1.8,-0.87],[1.6,-1.01],[-0.7,-1.39],[0.2,-1.25],[-7.7,-1.10],[2.4,-3.79]];
var r4c6_fit = [[-7.51,0.09],[9.17,-0.61]];
var r4c6_hi = [[-7.51,1.53],[-4.09,0.70],[-0.77,0.35],[2.54,0.26],[5.86,0.52],[9.17,0.78]];
var r4c6_lo = [[-7.51,-1.30],[-4.09,-0.96],[-0.77,-0.78],[2.54,-1.04],[5.86,-1.48],[9.17,-1.97]];

// ---------- row 5 ----------
var r5c1_gray = [[2.8,-6.69],[9.1,-6.74],[5.5,-7.34],[6.2,-7.24],[8.8,-7.36],[3.7,-7.66],[5.5,-7.55],[1.4,-8.13],[2.1,-8.15],[2.5,-8.04],[3.0,-7.97],[4.7,-7.96],[5.3,-8.25],[3.7,-8.34],[5.4,-8.46],[4.3,-8.69],[3.5,-8.78],[2.8,-9.37]];
var r5c1_black = [[3.9,-5.64],[6.2,-6.58],[3.9,-7.0],[3.1,-7.18],[3.4,-7.34],[5.4,-7.18],[2.3,-7.63],[3.4,-7.66],[3.7,-7.76],[10.5,-7.70],[11.2,-7.18],[3.0,-7.86],[2.6,-7.96],[4.0,-8.02],[5.4,-8.10],[4.2,-8.23],[4.5,-8.38],[2.3,-8.49],[3.7,-8.62],[6.2,-8.74]];
var r5c1_fit = [[1.51,-8.10],[11.24,-7.16]];
var r5c1_hi = [[1.51,-7.76],[3.36,-7.72],[5.37,-7.50],[7.38,-7.12],[9.40,-6.80],[11.24,-6.51]];
var r5c1_lo = [[1.51,-8.46],[3.36,-8.18],[5.37,-7.99],[7.38,-7.91],[9.40,-7.87],[11.24,-7.86]];

var r5c2_gray = [[5.8,-5.95],[6.0,-6.79],[6.1,-6.93],[3.6,-6.93],[4.6,-7.07],[5.1,-7.21],[7.9,-7.10],[10.3,-7.26],[8.3,-7.36],[7.6,-7.36],[5.0,-7.73],[5.9,-7.57],[6.7,-7.66],[8.0,-7.68],[2.8,-7.76],[9.4,-7.81],[10.3,-8.12],[3.6,-8.36],[4.9,-8.38],[7.0,-8.23],[3.6,-9.16]];
var r5c2_black = [[3.3,-5.85],[3.4,-6.32],[4.3,-6.37],[2.9,-6.55],[6.2,-6.53],[3.0,-7.10],[2.9,-7.39],[2.7,-7.59],[3.3,-7.66],[7.0,-7.63],[8.9,-7.76],[5.5,-7.89],[5.8,-8.08],[3.1,-8.0],[3.6,-8.0],[4.7,-8.23],[3.9,-8.31],[4.0,-8.51],[4.6,-8.75]];
var r5c2_fit = [[2.59,-7.42],[10.32,-7.78]];
var r5c2_hi = [[2.59,-7.07],[4.61,-7.18],[6.63,-7.26],[10.32,-7.28]];
var r5c2_lo = [[2.59,-7.70],[4.61,-7.73],[6.63,-7.89],[10.32,-8.28]];

var r5c3_gray = [[2.0,2.02],[3.7,1.56],[-1.6,1.23],[5.0,1.17],[2.1,1.0],[7.0,0.76],[1.5,0.46],[2.8,0.44],[3.7,0.13],[4.5,-0.08],[-2.8,-0.08],[-2.3,-0.01],[-1.2,0.04],[1.6,-0.18],[3.1,-0.18],[3.5,-0.29],[8.1,-0.09],[9.3,-0.22],[0.0,-0.81]];
var r5c3_black = [[2.7,2.09],[0.3,1.43],[0.5,0.84],[-1.1,0.84],[-1.1,0.72],[-0.8,0.56],[-2.6,0.32],[0.3,0.28],[2.2,0.39],[3.0,0.13],[-2.1,0.09],[-1.5,-0.01],[0.5,0.06],[1.7,-0.01],[-0.4,-0.07],[-0.5,-0.21],[0.0,-0.30],[-3.2,-0.50],[1.5,-0.51],[3.2,-0.64],[2.6,-0.69],[-7.4,-0.81]];
var r5c3_fit = [[-7.35,-0.05],[9.25,0.51]];
var r5c3_hi = [[-7.35,0.56],[-4.0,0.48],[-0.67,0.42],[2.67,0.51],[6.02,0.79],[9.25,1.10]];
var r5c3_lo = [[-7.35,-0.67],[-4.0,-0.30],[-0.67,0.0],[2.67,0.09],[6.02,0.02],[9.25,-0.09]];

var r5c4_gray = [[1.4,-3.73],[2.6,-4.41],[9.0,-4.61],[3.9,-5.03],[2.8,-5.40],[2.9,-5.53],[3.8,-5.34],[4.6,-5.55],[3.8,-5.69],[8.7,-5.72],[2.1,-5.82],[5.4,-6.10],[6.1,-6.45],[2.0,-6.66],[3.5,-6.47],[5.0,-6.78],[5.6,-6.89],[5.7,-6.96],[4.2,-6.99],[3.7,-6.31]];
var r5c4_black = [[3.3,-5.16],[3.6,-5.51],[6.2,-5.51],[3.8,-5.58],[11.2,-5.69],[2.5,-5.84],[3.5,-6.0],[3.8,-6.18],[5.4,-6.07],[2.3,-6.21],[10.4,-6.45],[2.9,-6.45],[3.1,-6.59],[4.5,-6.59],[3.9,-6.66],[3.0,-6.68],[4.2,-6.94],[5.4,-6.78],[2.3,-6.99],[5.4,-7.10],[6.2,-7.10],[3.6,-7.18],[2.7,-7.34]];
var r5c4_fit = [[1.43,-6.08],[11.16,-6.19]];
var r5c4_hi = [[1.43,-5.69],[3.42,-5.86],[5.42,-5.84],[7.41,-5.63],[11.16,-5.40]];
var r5c4_lo = [[1.43,-6.47],[3.42,-6.34],[5.42,-6.36],[7.41,-6.59],[11.16,-7.01]];

var r5c5_gray = [[3.5,-4.78],[5.9,-5.48],[5.7,-5.84],[8.0,-5.79],[4.2,-6.21],[5.0,-6.34],[6.1,-6.07],[10.2,-6.24],[10.2,-6.40],[3.5,-6.59],[4.1,-6.59],[6.2,-6.52],[6.5,-6.63],[8.3,-6.52],[9.3,-6.57],[6.9,-6.70],[7.9,-6.70],[2.6,-6.42]];
var r5c5_black = [[2.9,-5.48],[6.1,-5.30],[3.7,-5.58],[3.3,-5.82],[3.9,-5.79],[5.1,-5.82],[8.8,-5.84],[3.4,-6.0],[5.5,-6.05],[3.0,-6.26],[2.9,-6.42],[2.6,-6.42],[5.1,-6.31],[6.9,-6.31],[3.5,-6.52],[3.2,-6.73],[5.7,-6.63],[4.6,-6.83],[2.7,-7.20],[4.5,-7.51],[4.0,-7.96]];
var r5c5_fit = [[2.55,-6.36],[10.23,-6.12]];
var r5c5_hi = [[2.55,-6.08],[4.87,-6.13],[7.19,-6.0],[10.23,-5.72]];
var r5c5_lo = [[2.55,-6.63],[4.87,-6.47],[7.19,-6.42],[10.23,-6.49]];

var r5c6_gray = [[-1.8,1.91],[-2.4,0.42],[3.5,0.42],[3.5,0.24],[9.0,0.47],[1.3,0.14],[-1.3,-0.40],[2.5,-0.14],[4.9,-0.14],[8.0,-0.60],[3.0,-0.76],[3.9,-0.76],[1.6,-0.49],[-1.3,-0.94],[3.2,-1.12],[-3.1,-1.59],[4.3,-2.27],[6.9,-2.77]];
var r5c6_black = [[0.2,1.88],[2.5,1.90],[-0.9,1.15],[-0.1,0.84],[0.2,0.57],[2.1,0.65],[-1.2,0.18],[-2.4,0.08],[-2.7,-0.10],[0.2,-0.05],[-1.2,-0.21],[-0.8,-0.28],[-1.7,-0.42],[1.3,-0.31],[2.9,-0.18],[3.1,-0.10],[-3.3,-0.91],[-7.7,-0.87],[2.4,-1.46],[1.6,-1.75]];
var r5c6_fit = [[-7.51,0.23],[9.17,-0.55]];
var r5c6_hi = [[-7.51,1.07],[-4.09,0.49],[-0.77,0.18],[2.54,0.10],[5.86,0.18],[9.17,0.26]];
var r5c6_lo = [[-7.51,-0.63],[-4.09,-0.45],[-0.77,-0.37],[2.54,-0.63],[5.86,-0.97],[9.17,-1.41]];

// ---------- row 6 ----------
var r6c1_gray = [[2.1,0.10],[2.7,-0.20],[2.3,-0.72],[5.4,-1.22],[9.1,-0.99],[4.3,-1.52],[5.8,-2.08],[8.8,-2.15],[5.4,-2.43],[2.9,-2.63],[3.6,-2.53],[4.7,-2.58],[5.1,-2.68],[2.6,-3.47],[2.9,-3.27],[3.7,-3.12],[5.5,-3.24],[2.4,-3.77],[4.3,-3.50],[1.4,-4.31]];
var r6c1_black = [[4.0,-1.44],[5.4,-1.74],[5.4,-1.79],[6.2,-1.91],[10.5,-1.42],[3.1,-2.45],[3.9,-2.48],[4.0,-2.63],[4.2,-2.71],[4.5,-2.93],[3.9,-2.86],[11.2,-2.81],[2.7,-3.72],[3.4,-3.77],[2.6,-4.0],[3.6,-4.16],[3.7,-4.39],[2.3,-4.39],[3.4,-4.59],[2.4,-4.96],[3.0,-4.99],[6.2,-4.59],[5.4,-5.35]];
var r6c1_fit = [[1.51,-3.29],[11.24,-1.76]];
var r6c1_hi = [[1.51,-2.66],[3.36,-2.65],[5.37,-2.33],[7.38,-1.74],[9.40,-1.04],[11.24,-0.45]];
var r6c1_lo = [[1.51,-3.97],[3.36,-3.42],[5.37,-3.05],[7.38,-3.0],[9.40,-3.02],[11.24,-3.02]];

var r6c2_gray = [[3.5,0.18],[7.0,-0.03],[10.3,-0.13],[10.3,-0.42],[3.6,-0.78],[7.6,-0.72],[7.9,-0.78],[6.0,-2.11],[5.8,-2.33],[2.8,-2.78],[5.9,-2.68],[5.0,-2.93],[8.0,-2.95],[9.4,-3.04],[3.7,-3.52],[5.0,-3.77],[3.5,-4.11],[6.7,-3.92],[4.2,-4.51],[6.1,-4.58],[8.3,-4.58]];
var r6c2_black = [[3.1,-1.39],[3.9,-1.29],[8.9,-1.44],[3.3,-1.82],[3.4,-1.93],[4.3,-1.88],[7.0,-1.87],[2.9,-2.23],[3.3,-2.03],[2.6,-2.53],[2.9,-2.63],[5.2,-2.53],[3.7,-2.93],[3.6,-3.27],[6.2,-3.17],[3.4,-3.35],[2.8,-3.72],[2.9,-4.0],[4.0,-3.90],[5.6,-3.64],[5.8,-3.72],[4.6,-5.16],[4.7,-5.45]];
var r6c2_fit = [[2.59,-2.98],[10.32,-2.16]];
var r6c2_hi = [[2.59,-2.38],[4.61,-2.38],[6.63,-2.11],[8.65,-1.69],[10.32,-1.24]];
var r6c2_lo = [[2.59,-3.57],[4.61,-3.22],[6.63,-3.02],[8.65,-2.98],[10.32,-3.07]];

var r6c3_gray = [[-1.1,1.36],[-2.3,1.10],[5.0,1.05],[3.7,0.72],[0.0,0.35],[2.0,0.25],[8.1,0.31],[9.3,0.21],[4.5,0.16],[2.1,0.05],[-2.1,-0.17],[1.5,-0.10],[2.8,-0.32],[4.1,-0.38],[7.0,-0.26],[3.1,-0.88],[3.8,-0.99],[-3.0,-1.16],[-1.6,-1.07],[-1.2,-1.31],[3.4,-2.02]];
var r6c3_black = [[0.5,2.43],[2.3,2.39],[-0.6,1.88],[-2.6,1.57],[-1.1,0.94],[-0.8,0.81],[2.7,1.02],[3.2,0.96],[1.8,0.51],[-2.1,0.32],[3.0,0.31],[0.0,0.14],[-7.4,-0.25],[-3.1,-0.25],[-1.0,-0.14],[-0.4,-0.27],[0.3,-0.32],[0.3,-0.43],[-1.5,-0.62],[0.5,-0.90],[1.5,-0.87]];
var r6c3_fit = [[-7.35,0.11],[9.25,0.16]];
var r6c3_hi = [[-7.35,0.94],[-4.0,0.72],[-0.67,0.49],[2.67,0.49],[6.02,0.72],[9.25,0.98]];
var r6c3_lo = [[-7.35,-0.73],[-4.0,-0.47],[-0.67,-0.21],[2.67,-0.21],[6.02,-0.43],[9.25,-0.66]];

var r6c4_gray = [[5.4,-7.16],[5.5,-7.61],[6.1,-7.81],[4.2,-8.05],[2.8,-8.35],[8.7,-8.30],[9.0,-8.97],[4.6,-8.97],[3.8,-9.22],[3.4,-9.59],[3.9,-9.71],[1.4,-10.09],[2.1,-10.04],[4.1,-9.84],[2.5,-10.58],[2.4,-11.77],[2.0,-12.52],[5.4,-14.42]];
var r6c4_black = [[3.9,-7.48],[2.4,-8.55],[3.8,-8.60],[6.2,-8.23],[3.0,-8.85],[3.8,-8.85],[3.5,-9.34],[5.4,-9.10],[6.2,-9.54],[10.4,-9.27],[11.2,-9.17],[2.3,-9.96],[2.5,-10.33],[2.7,-10.71],[3.6,-10.63],[5.4,-10.66],[5.4,-11.82],[3.0,-13.51],[4.5,-14.92]];
var r6c4_fit = [[1.43,-10.21],[11.16,-8.65]];
var r6c4_hi = [[1.43,-9.42],[3.42,-9.29],[5.42,-8.90],[8.07,-8.05],[11.16,-7.04]];
var r6c4_lo = [[1.43,-11.03],[3.42,-10.38],[5.42,-10.04],[8.07,-10.16],[11.16,-10.29]];

var r6c5_gray = [[3.5,-4.56],[10.2,-7.36],[5.9,-7.61],[8.1,-8.23],[6.9,-8.48],[6.5,-9.34],[7.4,-9.47],[4.9,-9.54],[8.3,-9.84],[9.4,-10.21],[10.2,-10.21],[7.6,-10.46],[4.1,-11.13],[4.6,-11.95],[3.5,-11.95],[5.0,-14.80]];
var r6c5_black = [[3.3,-7.81],[3.9,-8.05],[4.0,-7.98],[5.1,-7.61],[6.2,-8.23],[2.9,-8.23],[3.1,-8.48],[3.4,-8.72],[5.5,-8.72],[2.7,-9.59],[8.8,-8.15],[3.3,-9.47],[5.8,-10.21],[2.8,-10.53],[2.7,-10.95],[2.9,-11.33],[4.6,-10.29],[4.6,-11.20],[3.6,-14.0],[4.3,-14.25]];
var r6c5_fit = [[2.55,-9.89],[10.23,-9.47]];
var r6c5_hi = [[2.55,-9.14],[4.87,-9.22],[7.19,-8.85],[10.23,-8.18]];
var r6c5_lo = [[2.55,-10.71],[4.87,-10.29],[7.19,-10.29],[10.23,-10.76]];

var r6c6_gray = [[-0.1,5.32],[-1.8,4.75],[4.3,2.09],[1.3,1.35],[-2.7,1.10],[3.9,1.35],[1.4,0.53],[0.2,0.95],[6.9,0.21],[8.0,-0.21],[9.0,-1.13],[0.1,-0.53],[3.3,-0.38],[-2.5,-2.19],[-1.3,-2.07],[1.9,-1.70],[3.5,-2.02],[-1.3,-3.19],[2.7,-3.07]];
var r6c6_black = [[-1.3,4.66],[0.2,3.88],[0.2,2.02],[2.5,1.77],[-2.7,1.15],[2.1,1.15],[-0.7,0.66],[1.6,0.53],[2.8,0.29],[-3.3,-0.33],[-1.1,-0.09],[-0.7,-0.29],[-1.7,-0.83],[0.1,-0.78],[0.2,-1.03],[2.4,-0.88],[1.3,-1.70],[-1.3,-3.56],[-7.7,-4.99]];
var r6c6_fit = [[-7.51,-0.51],[9.17,0.41]];
var r6c6_hi = [[-7.51,1.40],[-4.09,0.78],[-0.77,0.46],[2.54,0.66],[5.86,1.28],[9.17,2.14]];
var r6c6_lo = [[-7.51,-2.27],[-4.09,-1.33],[-0.77,-0.71],[2.54,-0.63],[5.86,-0.95],[9.17,-1.45]];

function pd(g, b, f, h, l) {
	return { gray : g, black : b, fit : f, hi : h, lo : l };
}
var panelData = [
	[pd(r1c1_gray, r1c1_black, r1c1_fit, r1c1_hi, r1c1_lo), pd(r1c2_gray, r1c2_black, r1c2_fit, r1c2_hi, r1c2_lo), pd(r1c3_gray, r1c3_black, r1c3_fit, r1c3_hi, r1c3_lo),
	 pd(r1c4_gray, r1c4_black, r1c4_fit, r1c4_hi, r1c4_lo), pd(r1c5_gray, r1c5_black, r1c5_fit, r1c5_hi, r1c5_lo), pd(r1c6_gray, r1c6_black, r1c6_fit, r1c6_hi, r1c6_lo)],
	[pd(r2c1_gray, r2c1_black, r2c1_fit, r2c1_hi, r2c1_lo), pd(r2c2_gray, r2c2_black, r2c2_fit, r2c2_hi, r2c2_lo), pd(r2c3_gray, r2c3_black, r2c3_fit, r2c3_hi, r2c3_lo),
	 pd(r2c4_gray, r2c4_black, r2c4_fit, r2c4_hi, r2c4_lo), pd(r2c5_gray, r2c5_black, r2c5_fit, r2c5_hi, r2c5_lo), pd(r2c6_gray, r2c6_black, r2c6_fit, r2c6_hi, r2c6_lo)],
	[pd(r3c1_gray, r3c1_black, r3c1_fit, r3c1_hi, r3c1_lo), pd(r3c2_gray, r3c2_black, r3c2_fit, r3c2_hi, r3c2_lo), pd(r3c3_gray, r3c3_black, r3c3_fit, r3c3_hi, r3c3_lo),
	 pd(r3c4_gray, r3c4_black, r3c4_fit, r3c4_hi, r3c4_lo), pd(r3c5_gray, r3c5_black, r3c5_fit, r3c5_hi, r3c5_lo), pd(r3c6_gray, r3c6_black, r3c6_fit, r3c6_hi, r3c6_lo)],
	[pd(r4c1_gray, r4c1_black, r4c1_fit, r4c1_hi, r4c1_lo), pd(r4c2_gray, r4c2_black, r4c2_fit, r4c2_hi, r4c2_lo), pd(r4c3_gray, r4c3_black, r4c3_fit, r4c3_hi, r4c3_lo),
	 pd(r4c4_gray, r4c4_black, r4c4_fit, r4c4_hi, r4c4_lo), pd(r4c5_gray, r4c5_black, r4c5_fit, r4c5_hi, r4c5_lo), pd(r4c6_gray, r4c6_black, r4c6_fit, r4c6_hi, r4c6_lo)],
	[pd(r5c1_gray, r5c1_black, r5c1_fit, r5c1_hi, r5c1_lo), pd(r5c2_gray, r5c2_black, r5c2_fit, r5c2_hi, r5c2_lo), pd(r5c3_gray, r5c3_black, r5c3_fit, r5c3_hi, r5c3_lo),
	 pd(r5c4_gray, r5c4_black, r5c4_fit, r5c4_hi, r5c4_lo), pd(r5c5_gray, r5c5_black, r5c5_fit, r5c5_hi, r5c5_lo), pd(r5c6_gray, r5c6_black, r5c6_fit, r5c6_hi, r5c6_lo)],
	[pd(r6c1_gray, r6c1_black, r6c1_fit, r6c1_hi, r6c1_lo), pd(r6c2_gray, r6c2_black, r6c2_fit, r6c2_hi, r6c2_lo), pd(r6c3_gray, r6c3_black, r6c3_fit, r6c3_hi, r6c3_lo),
	 pd(r6c4_gray, r6c4_black, r6c4_fit, r6c4_hi, r6c4_lo), pd(r6c5_gray, r6c5_black, r6c5_fit, r6c5_hi, r6c5_lo), pd(r6c6_gray, r6c6_black, r6c6_fit, r6c6_hi, r6c6_lo)]
];

//布局 (以4550x4643为基准, 按实际窗口缩放)
var BASE_W = 4550, BASE_H = 4643;
var dom = document.getElementById('main');
var sx = dom.clientWidth / BASE_W, sy = dom.clientHeight / BASE_H;
var sf = Math.min(sx, sy);
function X(v) { return v * sx; }
function Y(v) { return v * sy; }
function F(v) { return v * sf; }

var FONT = '"Liberation Sans", Arial, Helvetica, sans-serif';
var INK = '#111111', GRAY = '#949494', DARK = '#1c1a2b';
var colLeft = [235, 822, 1600, 2588, 3174, 3954];
var rowTop = [111, 835, 1559, 2280, 3004, 3726];
var plotW = 522, plotH = 528;

function tickFormatter(step) {
	return function(v) {
		var k = v / step;
		return Math.abs(k - Math.round(k)) < 1e-6 ? String(v) : '';
	};
}
function pointStyle(col) {
	return { color : 'rgba(0,0,0,0)', borderColor : col, borderWidth : F(4) };
}

var grids = [], xAxes = [], yAxes = [], series = [], graphics = [];

for (var r = 0; r < 6; r++) {
	for (var c = 0; c < 6; c++) {
		var idx = r * 6 + c;
		var isDelta = (c === 2 || c === 5);
		var right = c >= 3;
		var yr = isDelta ? (right ? yDeltaRight[r] : yDeltaLeft[r]) : (right ? yBasalRight[r] : yBasalLeft[r]);
		var xt = isDelta ? xDeltaTicks : xBasalTicks;
		var d = panelData[r][c];

		grids.push({ left : X(colLeft[c]), top : Y(rowTop[r]), width : X(plotW), height : Y(plotH),
			containLabel : false, outerBoundsMode : 'none' });

		xAxes.push({
			gridIndex : idx, type : 'value', min : xt[0], max : xt[1], interval : xt[2],
			show : r === 5, position : 'bottom', offset : Y(75),
			axisLine : { show : true, onZero : false, lineStyle : { color : INK, width : F(5) } },
			axisTick : { show : true, inside : false, length : Y(28), lineStyle : { color : INK, width : F(5) } },
			axisLabel : { show : true, margin : Y(56), fontSize : F(60), color : INK, fontFamily : FONT,
				showMinLabel : true, showMaxLabel : true, formatter : tickFormatter(xt[3]) },
			splitLine : { show : false }
		});

		yAxes.push({
			gridIndex : idx, type : 'value', min : yr[0], max : yr[1], interval : yr[2],
			show : !(c === 1 || c === 4), position : 'left',
			axisLine : { show : true, onZero : false, lineStyle : { color : INK, width : F(5) } },
			axisTick : { show : true, inside : false, length : X(27), lineStyle : { color : INK, width : F(5) } },
			axisLabel : { show : true, margin : X(right ? 36 : 46), fontSize : F(56), color : INK, fontFamily : FONT,
				showMinLabel : true, showMaxLabel : true, formatter : tickFormatter(yr[3]) },
			splitLine : { show : false }
		});

		series.push({ type : 'scatter', xAxisIndex : idx, yAxisIndex : idx, data : d.gray,
			symbol : 'circle', symbolSize : F(26), itemStyle : pointStyle(GRAY), silent : true, z : 2 });
		series.push({ type : 'scatter', xAxisIndex : idx, yAxisIndex : idx, data : d.black,
			symbol : 'circle', symbolSize : F(26), itemStyle : pointStyle(DARK), silent : true, z : 3 });
		series.push({ type : 'line', xAxisIndex : idx, yAxisIndex : idx, data : d.hi, smooth : 0.5,
			showSymbol : false, lineStyle : { color : INK, width : F(2.5) }, silent : true, z : 4 });
		series.push({ type : 'line', xAxisIndex : idx, yAxisIndex : idx, data : d.lo, smooth : 0.5,
			showSymbol : false, lineStyle : { color : INK, width : F(2.5) }, silent : true, z : 4 });
		series.push({ type : 'line', xAxisIndex : idx, yAxisIndex : idx, data : d.fit,
			showSymbol : false, lineStyle : { color : INK, width : F(6) }, silent : true, z : 5 });

		// P / r 标注
		graphics.push({ type : 'text', x : X(colLeft[c] + plotW), y : Y(rowTop[r] + 26), silent : true,
			style : { text : pLabels[r][c], fill : INK, fontSize : F(54), fontFamily : FONT, align : 'right', verticalAlign : 'middle' } });
		graphics.push({ type : 'text', x : X(colLeft[c] + plotW), y : Y(rowTop[r] + plotH - 19), silent : true,
			style : { text : rLabels[r][c], fill : INK, fontSize : F(54), fontFamily : FONT, align : 'right', verticalAlign : 'middle' } });

		// y轴标题
		var cy = Y(rowTop[r] + plotH / 2);
		if (c === 0 || c === 3) {
			var name = right ? mirRight[r] : mirLeft[r];
			var nameStyle = name === '122-5p' ? 'i' : 'b';
			graphics.push({ type : 'text', x : X(colLeft[c] - 200), y : cy, rotation : Math.PI / 2, silent : true,
				style : { text : '{n|miRNA-}{' + nameStyle + '|' + name + '}', align : 'center', verticalAlign : 'middle',
					rich : {
						n : { fontSize : F(62), fontFamily : FONT, fill : INK },
						b : { fontSize : F(62), fontFamily : FONT, fontWeight : 'bold', fill : INK },
						i : { fontSize : F(62), fontFamily : FONT, fontStyle : 'italic', fill : INK }
					} } });
			graphics.push({ type : 'text', x : X(colLeft[c] - 136), y : cy, rotation : Math.PI / 2, silent : true,
				style : { text : '(Normalized Cq)', fill : INK, fontSize : F(62), fontFamily : FONT, align : 'center', verticalAlign : 'middle' } });
		} else if (isDelta) {
			graphics.push({ type : 'text', x : X(colLeft[c] - 134), y : cy, rotation : Math.PI / 2, silent : true,
				style : { text : '\u0394 Normalized Cq', fill : INK, fontSize : F(63), fontFamily : FONT, align : 'center', verticalAlign : 'middle' } });
		}
	}
}

// 列标题与横线
for (var c2 = 0; c2 < 6; c2++) {
	graphics.push({ type : 'text', x : X(colLeft[c2] + plotW / 2), y : Y(27), silent : true,
		style : { text : colHeaders[c2 % 3], fill : INK, fontSize : F(48), fontWeight : 'bold', fontFamily : FONT, align : 'center', verticalAlign : 'middle' } });
	graphics.push({ type : 'line', silent : true,
		shape : { x1 : X(colLeft[c2]), y1 : Y(83), x2 : X(colLeft[c2] + plotW), y2 : Y(83) },
		style : { stroke : INK, lineWidth : F(4) } });
}

// x轴标题
var xTitleBasal = ['Basal P-selectin expression', '(mean fluorescence intensity \u00f7100)'];
var xTitleDelta = ['\u0394 basal P-sel. expr.', '(3months \u2212 baseline)'];
var xTitleCenters = [
	[(colLeft[0] + colLeft[1] + plotW) / 2, xTitleBasal],
	[colLeft[2] + plotW / 2, xTitleDelta],
	[(colLeft[3] + colLeft[4] + plotW) / 2, xTitleBasal],
	[colLeft[5] + plotW / 2, xTitleDelta]
];
xTitleCenters.forEach(function(t) {
	graphics.push({ type : 'text', x : X(t[0]), y : Y(4518), silent : true,
		style : { text : t[1][0], fill : INK, fontSize : F(64), fontFamily : FONT, align : 'center', verticalAlign : 'middle' } });
	graphics.push({ type : 'text', x : X(t[0]), y : Y(4594), silent : true,
		style : { text : t[1][1], fill : INK, fontSize : F(64), fontFamily : FONT, align : 'center', verticalAlign : 'middle' } });
});

var myChart = echarts.init(dom, null, { renderer : 'svg' });
myChart.setOption({
	animation : false,
	backgroundColor : '#ffffff',
	grid : grids,
	xAxis : xAxes,
	yAxis : yAxes,
	series : series,
	graphic : { elements : graphics }
});
</script>
</body>
</html>
